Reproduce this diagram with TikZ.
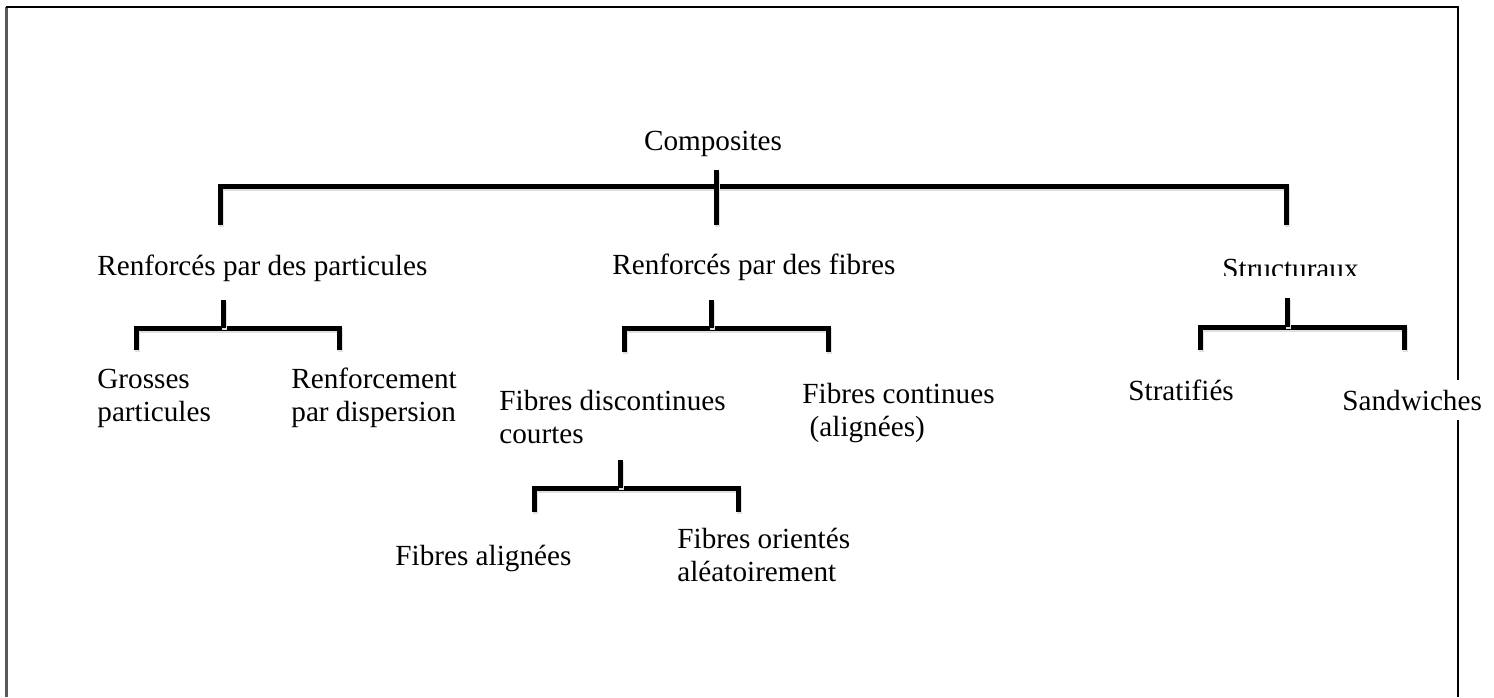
\documentclass[tikz,border=0pt]{standalone}
\usepackage{fontspec}
\setmainfont{Liberation Serif}
\usetikzlibrary{positioning}

\begin{document}
\begin{tikzpicture}[x=0.5pt, y=-0.5pt, every node/.style={font=\fontsize{14.6}{16.5}\selectfont, inner sep=0pt, align=left}, bracket/.style={line width=2.5pt, line join=miter, preaction={draw=black!12, line width=2.5pt, transform canvas={xshift=0.6pt, yshift=-1.2pt}}}, frame/.style={line width=1pt}]
\useasboundingbox (0,0) rectangle (1494,697);

% frame
\draw[line width=1.5pt, black!65] (6,697) -- (6,7);
\draw[frame] (6,7) -- (1458,7) -- (1458,697);

% labels (two-line labels sit on their last line)
\node[anchor=base] (comp) at (713,150) {Composites};
\node[anchor=base west] (part) at (97,275) {Renforcés par des particules};
\node[anchor=base west] (fib) at (612,274) {Renforcés par des fibres};
\begin{scope}
\clip (1200,240) rectangle (1380,275);
\node[anchor=base west] (struct) at (1222,278) {Structuraux};
\end{scope}
\node[anchor=base west] (gros) at (97,421) {Grosses\\particules};
\node[anchor=base west] (disp) at (291,421) {Renforcement\\par dispersion};
\node[anchor=base west] (disc) at (499,443) {Fibres discontinues\\courtes};
\node[anchor=base west] (cont) at (802,436) {Fibres continues\\ \ (alignées)};
\node[anchor=base west] (align) at (395,565) {Fibres alignées};
\node[anchor=base west] (alea) at (677,581) {Fibres orientés\\aléatoirement};
\node[anchor=base west] (strat) at (1128,400) {Stratifiés};
\node[anchor=base west, fill=white, inner sep=5pt] (sand) at (1332,410) {Sandwiches};

% brackets
\coordinate (t0) at (716,170);
\coordinate (l0) at (220,225);
\coordinate (r0) at (1286,225);
\coordinate (t1) at (223,300);
\coordinate (l1) at (136,350);
\coordinate (r1) at (339,350);
\coordinate (t2) at (711,300);
\coordinate (l2) at (624,352);
\coordinate (r2) at (828,352);
\coordinate (t3) at (620,460);
\coordinate (l3) at (534,512);
\coordinate (r3) at (738,512);
\coordinate (t4) at (1287,298);
\coordinate (l4) at (1200,350);
\coordinate (r4) at (1404,350);

\draw[bracket] (l0) -- ++(0,-39) -| (r0);
\draw[bracket] (t0) -- ++(0,55);
\draw[bracket] (l1) -- ++(0,-22) -| (r1);
\draw[bracket] (t1) -- ++(0,28);
\draw[bracket] (l2) -- ++(0,-24) -| (r2);
\draw[bracket] (t2) -- ++(0,28);
\draw[bracket] (l3) -- ++(0,-24) -| (r3);
\draw[bracket] (t3) -- ++(0,28);
\draw[bracket] (l4) -- ++(0,-23) -| (r4);
\draw[bracket] (t4) -- ++(0,29);
\end{tikzpicture}
\end{document}
